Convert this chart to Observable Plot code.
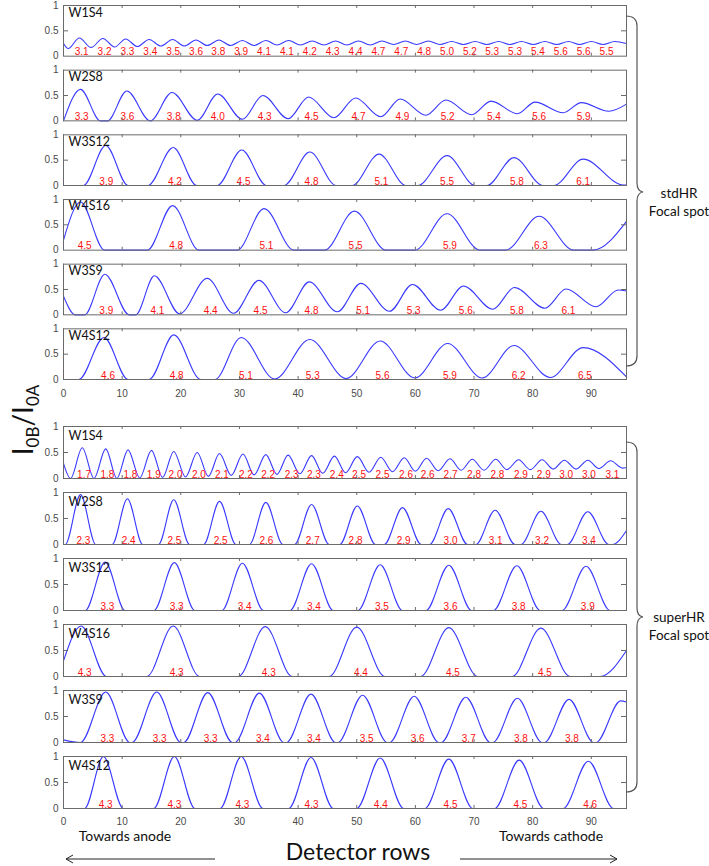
<!DOCTYPE html>
<html><head><meta charset="utf-8">
<script src="https://cdn.jsdelivr.net/npm/d3@7"></script>
<script src="https://cdn.jsdelivr.net/npm/@observablehq/plot@0.6"></script>
<style>
body{margin:0;background:#fff;}
#wrap{position:relative;width:709px;height:866px;overflow:hidden;background:#fff;}
#wrap svg{position:absolute;left:0;}
</style></head><body><div id="wrap"></div>
<script>
// ---------- axes ----------
const xTicks = [0,10,20,30,40,50,60,70,80,90];
const yTicks = [0,0.5,1];
const yTickLabels = ["0","0.5","1"];
const panelNames = ["W1S4","W2S8","W3S12","W4S16","W3S9","W4S12"];

// ---------- stdHR focal spot: curve key points [row, I0B/I0A] ----------
const stdW1S4 = [[0,0.25],[0.8,0.15],[2.7,0.36],[4.7,0.17],[6.7,0.35],[8.7,0.18],[10.6,0.34],[12.6,0.19],[14.6,0.33],[16.6,0.2],[18.6,0.33],[20.6,0.2],[22.6,0.32],[24.5,0.21],[26.5,0.32],[28.5,0.21],[30.5,0.31],[32.5,0.21],[34.5,0.31],[36.4,0.22],[38.4,0.31],[40.4,0.22],[42.4,0.3],[44.4,0.22],[46.4,0.3],[48.3,0.22],[50.3,0.3],[52.3,0.22],[54.3,0.3],[56.3,0.23],[58.3,0.3],[60.2,0.23],[62.2,0.3],[64.2,0.23],[66.2,0.29],[68.2,0.23],[70.2,0.29],[72.2,0.23],[74.2,0.29],[76.1,0.23],[78.1,0.29],[80.1,0.23],[82.1,0.29],[84.1,0.23],[86.1,0.29],[88.0,0.23],[90.0,0.29],[92.0,0.23],[94.0,0.29],[96,0.25]];
const stdW2S8 = [[0,0],[2.9,0.62],[6.3,0],[7.5,0],[10.8,0.59],[14.8,0],[18.5,0.56],[22.8,0.01],[26.3,0.53],[30.5,0.03],[34.0,0.5],[38.3,0.04],[41.8,0.47],[46.1,0.06],[49.8,0.45],[54.1,0.08],[57.4,0.43],[61.8,0.11],[65.2,0.41],[69.6,0.12],[72.9,0.39],[77.4,0.14],[80.4,0.37],[85.2,0.16],[88.3,0.36],[93.0,0.19],[96,0.33]];
const stdW3S12 = [[0,0],[3.4,0],[7.2,0.79],[11.0,0],[14.4,0],[18.7,0.75],[22.7,0],[26.2,0],[30.4,0.7],[34.6,0],[37.6,0],[42.0,0.66],[46.5,0],[49.2,0],[53.8,0.62],[58.4,0],[60.4,0],[65.4,0.59],[70.2,0],[72.2,0],[76.8,0.55],[81.8,0],[83.6,0],[88.6,0.52],[95.5,0.01],[96,0.01]];
const stdW4S16 = [[0,0.2],[2.9,0.95],[7.0,0],[14.3,0],[18.6,0.88],[23.1,0],[29.6,0],[34.2,0.82],[39.3,0],[44.5,0],[49.6,0.77],[55.0,0],[59.9,0],[65.4,0.72],[71.0,0],[75.4,0],[81.1,0.67],[87.0,0],[90.3,0],[96,0.57]];
const stdW3S9 = [[0,0.37],[2.0,0],[3.6,0],[7.05,0.8],[11.2,0],[12.3,0],[15.5,0.77],[19.8,0.02],[24.5,0.72],[29.0,0.03],[33.3,0.68],[37.9,0.04],[41.9,0.65],[46.7,0.06],[50.7,0.62],[55.6,0.07],[59.5,0.6],[64.3,0.09],[68.2,0.57],[73.2,0.11],[76.9,0.54],[82.1,0.13],[85.7,0.51],[90.8,0.16],[94.6,0.49],[96,0.47]];
const stdW4S12 = [[0,0],[2.6,0],[6.9,0.83],[11.0,0],[14.6,0],[18.8,0.88],[23.4,0],[25.8,0],[30.3,0.83],[36.0,0.01],[42.0,0.79],[48.2,0.02],[54.0,0.76],[59.9,0.03],[65.5,0.71],[71.4,0.03],[76.8,0.67],[83.0,0.04],[88.6,0.63],[96,0.05]];

const stdLabels = [
  [3.1,3.2,3.3,3.4,3.5,3.6,3.8,3.9,4.1,4.1,4.2,4.3,4.4,4.7,4.7,4.8,5.0,5.2,5.3,5.3,5.4,5.6,5.6,5.5],
  [3.3,3.6,3.8,4.0,4.3,4.5,4.7,4.9,5.2,5.4,5.6,5.9],
  [3.9,4.2,4.5,4.8,5.1,5.5,5.8,6.1],
  [4.5,4.8,5.1,5.5,5.9,6.3],
  [3.9,4.1,4.4,4.5,4.8,5.1,5.3,5.6,5.8,6.1],
  [4.6,4.8,5.1,5.3,5.6,5.9,6.2,6.5]
];
const stdLabelRows = [
  [3.1,7.0,10.9,14.8,18.7,22.6,26.4,30.3,34.2,38.1,42.0,45.9,49.8,53.7,57.6,61.5,65.4,69.3,73.1,77.0,80.9,84.8,88.7,92.6],
  [3.1,10.9,18.8,26.3,34.3,42.3,50.3,57.8,65.5,73.4,81.1,88.7],
  [7.3,19.0,30.7,42.3,54.2,65.4,77.3,88.6],
  [3.6,19.2,34.6,49.8,65.9,81.4],
  [7.3,16.0,25.1,33.6,42.3,51.1,59.7,68.6,77.3,86.1],
  [7.6,19.3,31.1,42.5,54.4,65.9,77.6,88.9]
];

// ---------- superHR focal spot ----------
const supW1S4 = [[0,0.29],[1.2,0],[3.2,0.59],[5.2,0],[7.2,0.57],[9.1,0],[11.0,0.55],[13.0,0.01],[15.0,0.54],[16.9,0.02],[18.8,0.52],[20.8,0.03],[22.8,0.5],[24.7,0.04],[26.6,0.48],[28.6,0.06],[30.6,0.47],[32.5,0.07],[34.5,0.46],[36.4,0.08],[38.3,0.45],[40.3,0.09],[42.3,0.44],[44.2,0.1],[46.2,0.43],[48.1,0.11],[50.1,0.42],[52.1,0.12],[54.1,0.41],[56.1,0.13],[58.1,0.4],[60.0,0.14],[61.9,0.39],[63.9,0.15],[65.9,0.38],[67.8,0.16],[69.7,0.37],[71.7,0.16],[73.7,0.37],[75.6,0.17],[77.6,0.36],[79.6,0.17],[81.6,0.36],[83.5,0.18],[85.4,0.35],[87.4,0.18],[89.4,0.35],[91.3,0.19],[93.3,0.34],[95.3,0.2],[96,0.21]];
const supW2S8 = [[0,0],[0.3,0],[2.9,0.96],[5.5,0],[8.3,0],[10.9,0.88],[13.5,0],[16.2,0],[18.8,0.86],[21.5,0],[23.9,0],[26.6,0.83],[29.4,0],[31.7,0],[34.5,0.81],[37.4,0],[39.4,0],[42.3,0.77],[45.3,0],[47.1,0],[50.1,0.74],[53.2,0],[54.7,0],[57.8,0.71],[61.0,0],[62.4,0],[65.6,0.69],[68.9,0],[70.3,0],[73.6,0.66],[77.0,0],[78.0,0],[81.4,0.64],[84.9,0],[85.9,0],[89.4,0.63],[93.0,0],[93.6,0],[96,0.27]];
const supW3S12 = [[0,0],[3.7,0],[7.1,0.93],[10.5,0],[15.4,0],[18.9,0.92],[22.4,0],[27.0,0],[30.5,0.91],[34.1,0],[38.6,0],[42.3,0.9],[46.0,0],[50.2,0],[54.0,0.88],[57.8,0],[61.8,0],[65.7,0.87],[69.6,0],[73.3,0],[77.3,0.86],[81.3,0],[85.0,0],[89.1,0.85],[93.2,0],[96,0]];
const supW4S16 = [[0,0.3],[3.0,0.97],[7.3,0],[14.2,0],[18.7,0.97],[23.2,0],[29.8,0],[34.4,0.96],[39.0,0],[45.3,0],[50.0,0.95],[54.8,0],[60.9,0],[65.7,0.94],[70.6,0],[76.5,0],[81.4,0.93],[86.4,0],[91.5,0],[96,0.5]];
const supW3S9 = [[0,0.05],[2.9,0],[7.2,0.97],[11.3,0],[11.7,0],[15.9,0.97],[20.0,0],[20.5,0],[24.6,0.96],[28.8,0],[29.2,0],[33.4,0.95],[37.6,0],[38.0,0],[42.2,0.93],[46.4,0],[46.8,0],[51.0,0.91],[55.2,0],[55.6,0],[59.8,0.89],[64.0,0],[64.4,0],[68.6,0.87],[72.8,0],[73.2,0],[77.4,0.85],[81.6,0],[82.0,0],[86.2,0.83],[90.4,0],[90.8,0],[95.0,0.8],[96,0.78]];
const supW4S12 = [[0,0],[3.6,0],[6.8,1.0],[10.2,0],[15.4,0],[18.9,1.0],[22.4,0],[26.7,0],[30.3,1.0],[34.0,0],[38.4,0],[42.2,0.98],[46.0,0],[50.0,0],[54.0,0.97],[58.0,0],[61.6,0],[65.7,0.95],[69.8,0],[73.5,0],[77.7,0.93],[81.9,0],[85.2,0],[89.5,0.91],[93.8,0],[96,0]];

const supLabels = [
  [1.7,1.8,1.8,1.9,2.0,2.0,2.1,2.2,2.2,2.3,2.3,2.4,2.5,2.5,2.6,2.6,2.7,2.8,2.8,2.9,2.9,3.0,3.0,3.1],
  [2.3,2.4,2.5,2.5,2.6,2.7,2.8,2.9,3.0,3.1,3.2,3.4],
  [3.3,3.3,3.4,3.4,3.5,3.6,3.8,3.9],
  [4.3,4.3,4.3,4.4,4.5,4.5],
  [3.3,3.3,3.3,3.4,3.4,3.5,3.6,3.7,3.8,3.8],
  [4.3,4.3,4.3,4.3,4.4,4.5,4.5,4.6]
];
const supLabelRows = [
  [3.5,7.5,11.4,15.4,19.1,23.1,27.0,31.1,34.9,38.9,42.7,46.6,50.4,54.4,58.4,62.1,66.0,70.0,74.0,78.0,81.9,85.7,89.6,93.6],
  [3.4,11.1,18.9,26.8,34.6,42.5,49.8,58.0,66.0,73.7,81.6,89.6],
  [7.5,19.3,30.9,42.7,54.3,66.0,77.6,89.4],
  [3.6,19.3,35.0,50.7,66.4,82.1],
  [7.5,16.4,25.1,34.0,42.7,51.7,60.4,69.1,78.0,86.7],
  [7.2,18.9,30.5,42.3,54.1,66.0,77.9,89.8]
];

// ---------- drawing ----------
const frameColor = "#6a6a6a";
const W = 709, ML = 63, MR = 83;
const innerW = W - ML - MR;

function group(curves, labelVals, labelRows, cfg) {
  const rows = [];
  curves.forEach((pts, k) => pts.forEach(([x, y]) => rows.push({panel: panelNames[k], x, y})));
  const labs = [];
  labelVals.forEach((vals, k) => vals.forEach((v, i) => labs.push({panel: panelNames[k], x: labelRows[k][i], t: v.toFixed(1)})));
  const bw = cfg.bw;
  return Plot.plot({
    width: W, height: cfg.height,
    marginLeft: ML, marginRight: MR, marginTop: cfg.mt, marginBottom: cfg.mb,
    style: {background: "transparent", fontFamily: "'Liberation Sans', Arial, sans-serif", overflow: "visible"},
    x: {domain: [0, 96], axis: null},
    y: {domain: [0, 1], axis: null},
    fy: {domain: panelNames, axis: null, paddingInner: cfg.pad, paddingOuter: 0, round: false},
    marks: [
      Plot.line(rows, {x: "x", y: "y", fy: "panel", curve: "monotone-x", stroke: "#3838ff", strokeWidth: 1.1}),
      Plot.text(labs, {x: "x", y: 0, fy: "panel", text: "t", fill: "#ff1010", fontSize: 10, dy: -4}),
      Plot.ruleX(xTicks, {x: d => d, insetBottom: bw - 3, stroke: frameColor}),
      Plot.ruleX(xTicks, {x: d => d, insetTop: bw - 3, stroke: frameColor}),
      Plot.ruleY([0.5], {y: d => d, insetRight: innerW - 5, stroke: frameColor}),
      Plot.ruleY([0.5], {y: d => d, insetLeft: innerW - 5, stroke: frameColor}),
      Plot.frame({stroke: frameColor}),
      Plot.text(yTicks, {x: 0, y: d => d, text: (d, i) => yTickLabels[i], textAnchor: "end", dx: -5, fontSize: 10, fill: "#4a4a4a"}),
      Plot.text(panelNames, {x: 0, y: 1, fy: d => d, text: d => d, textAnchor: "start", dx: 5, dy: cfg.nameDy, fontSize: 12.5, fontFamily: "Lato", fill: "#111"}),
      Plot.text(xTicks, {x: d => d, y: 0, fy: () => panelNames[5], text: d => String(d), dy: cfg.xlabDy, fontSize: 10, fill: "#4a4a4a"})
    ]
  });
}

const wrap = document.getElementById("wrap");
const top1 = group([stdW1S4, stdW2S8, stdW3S12, stdW4S16, stdW3S9, stdW4S12], stdLabels, stdLabelRows,
  {height: 402, mt: 5, mb: 23, bw: 50.7, pad: 14 / 64.7, nameDy: 7, xlabDy: 14});
top1.style.top = "0px";
wrap.appendChild(top1);
const bot = group([supW1S4, supW2S8, supW3S12, supW4S16, supW3S9, supW4S12], supLabels, supLabelRows,
  {height: 410, mt: 6, mb: 22, bw: 52, pad: 14 / 66, nameDy: 9, xlabDy: 13});
bot.style.top = "420px";
wrap.appendChild(bot);

// ---------- annotations ----------
const ov = d3.select(wrap).append("svg").attr("width", W).attr("height", 866).style("top", "0px")
  .style("font-family", "Lato, 'Open Sans', sans-serif");
function brace(y0, y1, ym) {
  return `M626,${y0} Q637,${y0} 637,${y0 + 10} L637,${ym - 9} Q637,${ym - 1} 643,${ym} Q637,${ym + 1} 637,${ym + 9} L637,${y1 - 10} Q637,${y1} 626,${y1}`;
}
ov.append("path").attr("d", brace(16, 366, 192)).attr("fill", "none").attr("stroke", "#555").attr("stroke-width", 1.2);
ov.append("path").attr("d", brace(442, 792, 617)).attr("fill", "none").attr("stroke", "#555").attr("stroke-width", 1.2);
const groupText = [["stdHR", 679, 198], ["Focal spot", 679, 216], ["superHR", 679, 622], ["Focal spot", 679, 640]];
ov.selectAll("text.g").data(groupText).join("text").attr("class", "g")
  .attr("x", d => d[1]).attr("y", d => d[2]).attr("text-anchor", "middle").attr("font-size", 13.5).attr("fill", "#111").text(d => d[0]);

// y title
const yt = ov.append("text").attr("transform", "translate(33,420) rotate(-90)").attr("text-anchor", "middle")
  .attr("font-size", 28).attr("fill", "#111").attr("font-family", "Lato");
yt.append("tspan").text("I");
yt.append("tspan").attr("font-size", 17).attr("dy", 6).text("0B");
yt.append("tspan").attr("dy", -6).text("/I");
yt.append("tspan").attr("font-size", 17).attr("dy", 6).text("0A");

// x title and arrows
ov.append("text").attr("x", 358).attr("y", 860).attr("text-anchor", "middle").attr("font-size", 23).attr("fill", "#111").text("Detector rows");
ov.append("text").attr("x", 125).attr("y", 841).attr("text-anchor", "middle").attr("font-size", 14).attr("fill", "#111").text("Towards anode");
ov.append("text").attr("x", 551).attr("y", 841).attr("text-anchor", "middle").attr("font-size", 14).attr("fill", "#111").text("Towards cathode");
ov.append("path").attr("d", "M215,859 L66,859 M73,855 L66,859 L73,863").attr("fill", "none").attr("stroke", "#222").attr("stroke-width", 1);
ov.append("path").attr("d", "M460,859 L617,859 M610,855 L617,859 L610,863").attr("fill", "none").attr("stroke", "#222").attr("stroke-width", 1);
</script></body></html>
